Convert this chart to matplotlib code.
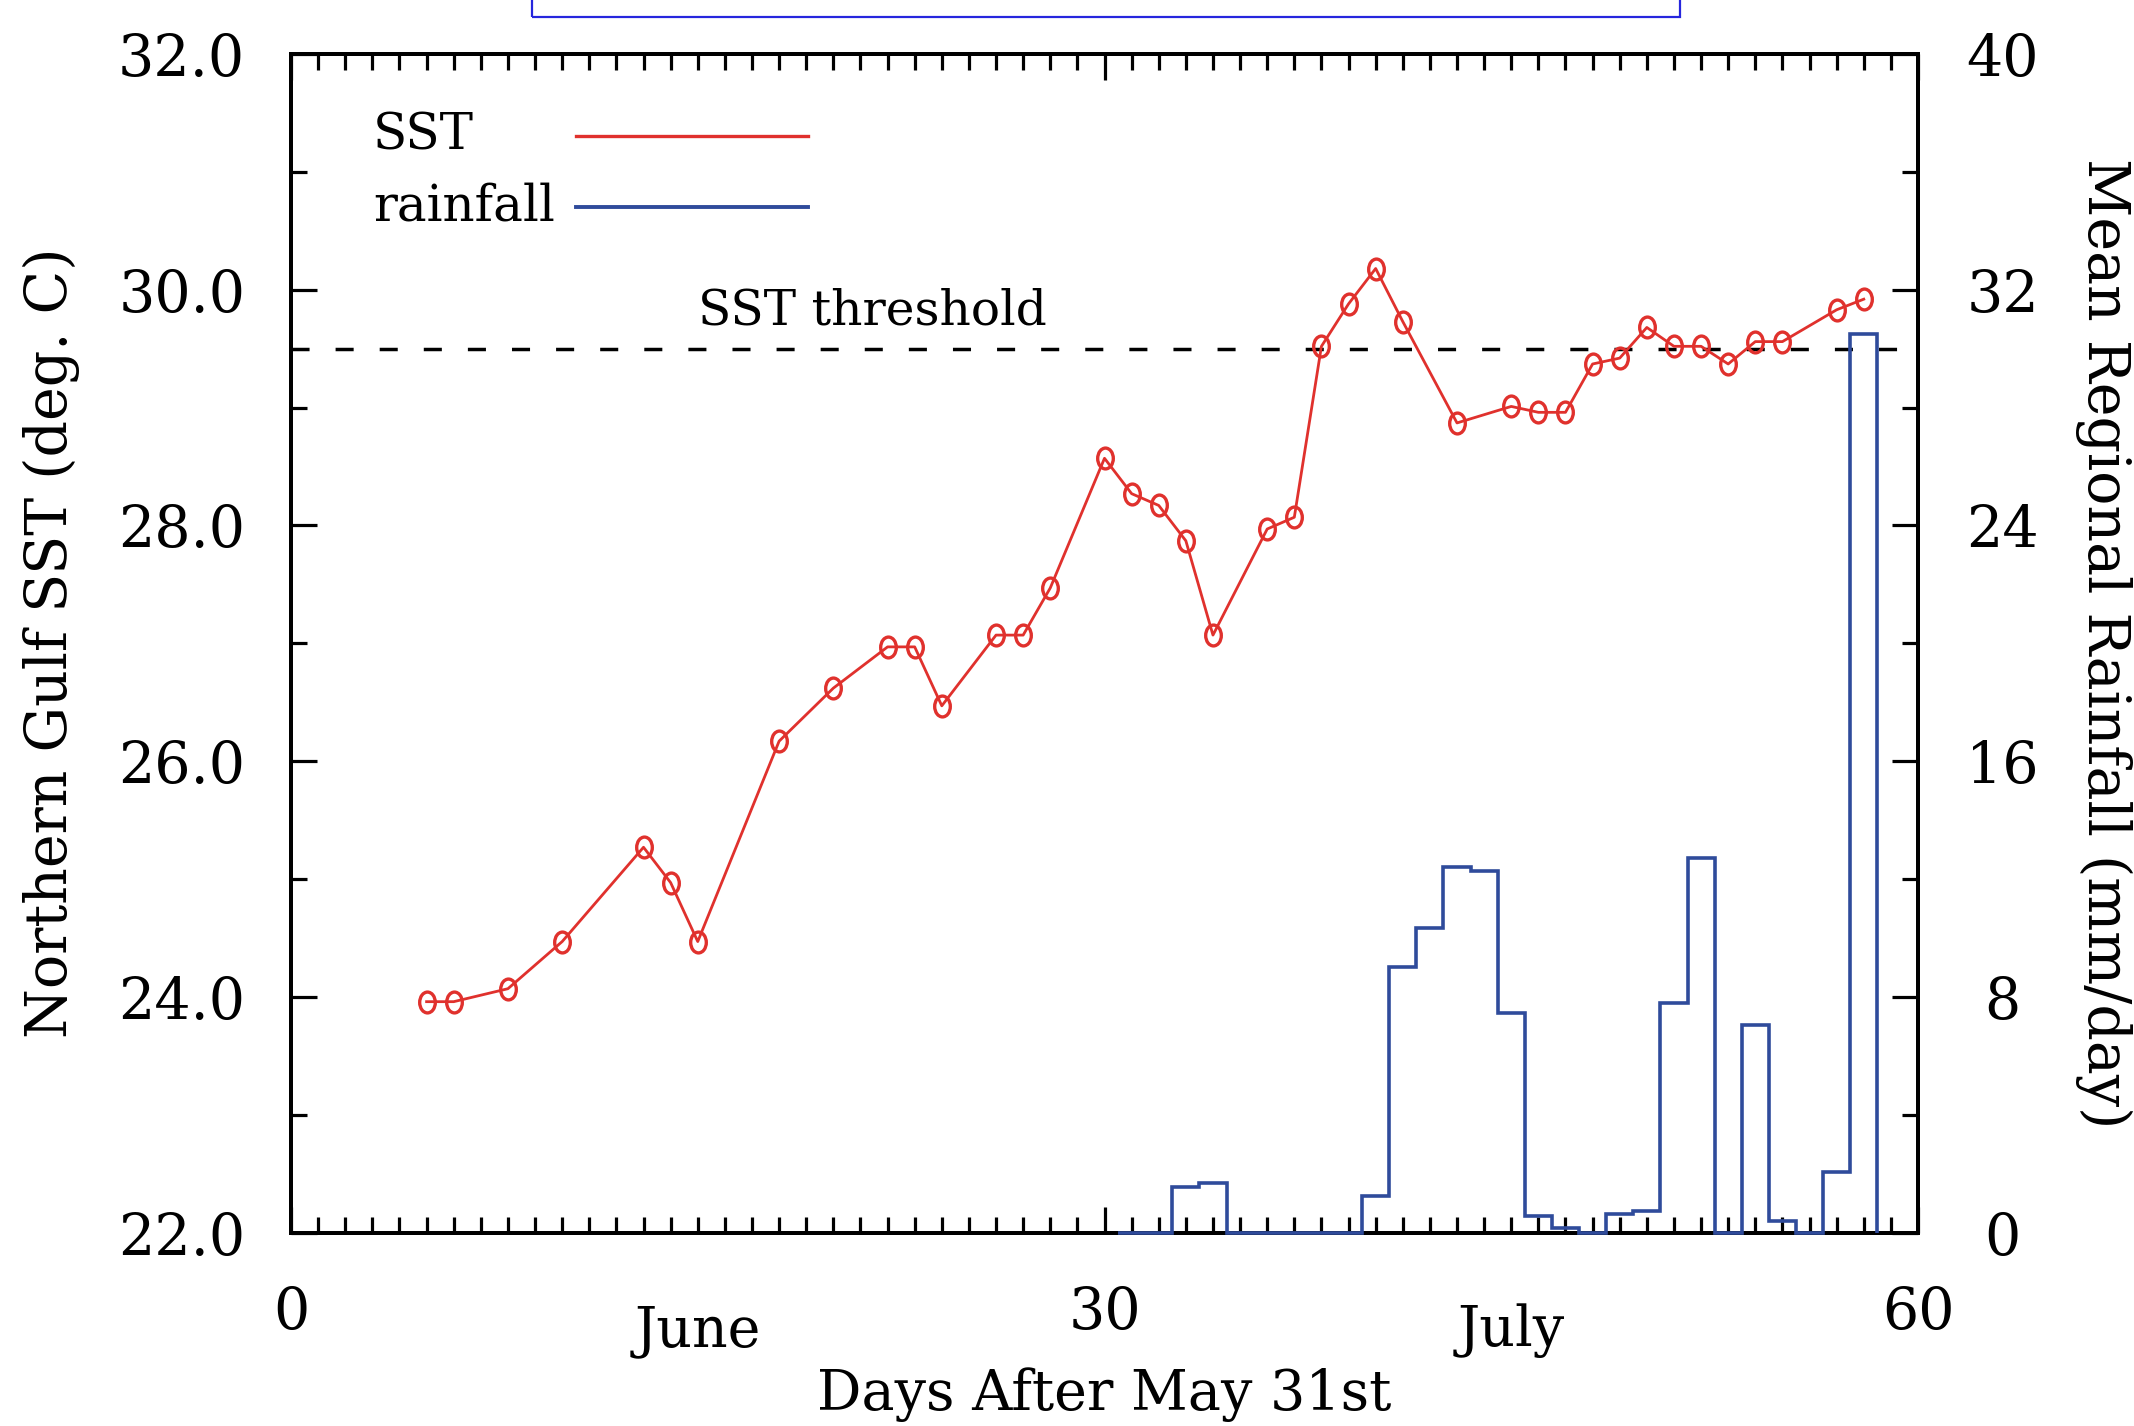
import numpy as np
import matplotlib
matplotlib.use("Agg")
from matplotlib import pyplot as plt
from matplotlib.path import Path
from matplotlib.transforms import Affine2D
from matplotlib.ticker import MultipleLocator, FormatStrFormatter
from matplotlib.patches import Rectangle

plt.rcParams['font.family'] = ['DejaVu Serif']

# SST (deg C) by day after May 31st
sst_days = [5, 6, 8, 10, 13, 14, 15, 18, 20, 22, 23, 24, 26, 27, 28, 30, 31, 32, 33, 34,
            36, 37, 38, 39, 40, 41, 43, 45, 46, 47, 48, 49, 50, 51, 52, 53, 54, 55, 57, 58]
sst = [23.96, 23.96, 24.07, 24.47, 25.27, 24.97, 24.47, 26.17, 26.62, 26.97, 26.97, 26.47,
       27.07, 27.07, 27.47, 28.57, 28.27, 28.17, 27.87, 27.07, 27.97, 28.07, 29.52, 29.88,
       30.18, 29.73, 28.87, 29.01, 28.96, 28.96, 29.37, 29.42, 29.68, 29.52, 29.52, 29.37,
       29.56, 29.56, 29.83, 29.92]

# daily mean regional rainfall (mm/day), days 31..58
rain_days = np.arange(31, 59)
rain = [0, 0, 1.56, 1.68, 0, 0, 0, 0, 0, 1.24, 9.0, 10.35, 12.42, 12.28, 7.47, 0.57,
        0.17, 0, 0.62, 0.75, 7.79, 12.72, 0, 7.04, 0.39, 0, 2.06, 30.5]

sst_threshold = 29.5
month_labels = ["June", "July"]
month_pos = [15, 45]

red = '#e0312d'
blue = '#2f4b9b'

W, H = 2134, 1426
fig = plt.figure(figsize=(W / 100, H / 100), dpi=100)
ax = fig.add_axes([291 / W, 1 - 1232.7 / H, 1627 / W, 1178.7 / H])
ax2 = ax.twinx()

# oval marker like the original plot symbol
oval = Path.unit_circle().transformed(Affine2D().scale(0.75, 1.0))

ax.plot(sst_days, sst, color=red, lw=2.0, marker=oval, ms=15, mfc='none',
        mec=red, mew=2.4, zorder=4)
ax.axhline(sst_threshold, color='black', lw=2.5, dashes=(5.2, 7.5), zorder=3)
ax.text(15, sst_threshold + 0.12, "SST threshold", fontsize=35, ha='left', va='bottom')

edges = np.append(rain_days - 0.5, rain_days[-1] + 0.5)
ax2.stairs(rain, edges, baseline=0, color=blue, lw=2.6, zorder=5, clip_on=False)

ax.set_xlim(0, 60)
ax.set_ylim(22, 32)
ax2.set_ylim(0, 40)

ax.xaxis.set_major_locator(MultipleLocator(30))
ax.xaxis.set_minor_locator(MultipleLocator(1))
ax.yaxis.set_major_locator(MultipleLocator(2))
ax.yaxis.set_minor_locator(MultipleLocator(1))
ax.yaxis.set_major_formatter(FormatStrFormatter('%.1f'))
ax2.yaxis.set_major_locator(MultipleLocator(8))
ax2.yaxis.set_minor_locator(MultipleLocator(4))

ax.tick_params(axis='x', which='both', direction='in', top=True, bottom=True,
               labelsize=41, pad=38, width=2.3)
ax.tick_params(axis='y', which='both', direction='in', left=True, right=False,
               labelsize=41, pad=33, width=2.3)
ax.tick_params(which='major', length=19)
ax.tick_params(which='minor', length=11.5)
ax2.tick_params(axis='y', which='both', direction='in', right=True, left=False,
                labelsize=41, pad=61, width=2.3)
ax2.tick_params(which='major', length=19)
ax2.tick_params(which='minor', length=11.5)
for lab in ax2.get_yticklabels():
    lab.set_horizontalalignment('center')

for a in (ax, ax2):
    for s in a.spines.values():
        s.set_linewidth(2.8)

# month names under the axis
for name, d in zip(month_labels, month_pos):
    ax.text(d, -0.083, name, transform=ax.get_xaxis_transform(), fontsize=40,
            ha='center', va='center')

# hand-made legend: label then line
ax.text(0.0504, 0.9304, "SST", transform=ax.transAxes, fontsize=36, va='center', ha='left')
ax.text(0.0504, 0.870, "rainfall", transform=ax.transAxes, fontsize=36, va='center', ha='left')
ax.plot([0.175, 0.318], [0.9304, 0.9304], transform=ax.transAxes, color=red, lw=2.4)
ax.plot([0.175, 0.318], [0.870, 0.870], transform=ax.transAxes, color=blue, lw=2.8)

fig.text(51 / W, 1 - 643 / H, "Northern Gulf SST (deg. C)", rotation=90,
         fontsize=41, ha='center', va='center')
fig.text(2104 / W, 1 - 643 / H, "Mean Regional Rainfall (mm/day)", rotation=270,
         fontsize=41, ha='center', va='center')
fig.text(1104 / W, 1 - 1395 / H, "Days After May 31st", fontsize=40,
         ha='center', va='center')

# edge of the neighbouring panel box, cut off at the top
fig.patches.append(Rectangle((532 / W, 1 - 17 / H), (1680 - 532) / W, 0.05,
                             transform=fig.transFigure, fill=False,
                             edgecolor='#2626dd', lw=1.6))

fig.savefig("out.png", dpi=100)
